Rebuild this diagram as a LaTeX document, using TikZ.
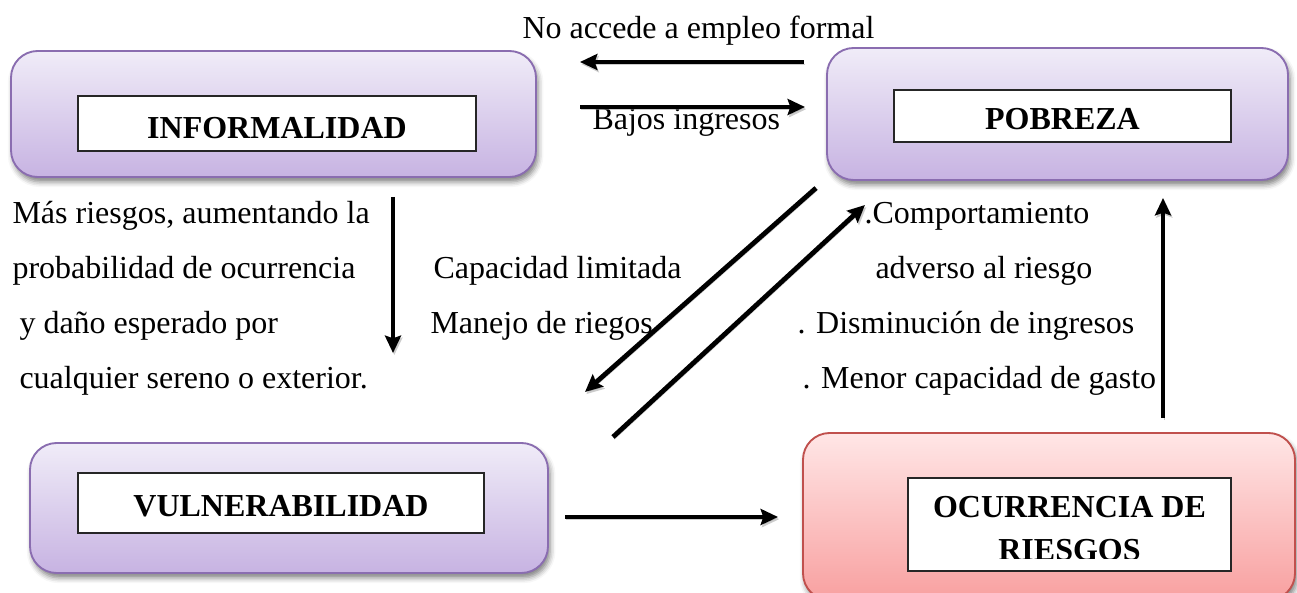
\documentclass[tikz,border=0pt]{standalone}
\usepackage{fontspec}
\setmainfont{Liberation Serif}
\usetikzlibrary{arrows.meta,shadows.blur,fit}
\definecolor{ptop}{HTML}{F0ECF8}
\definecolor{pbot}{HTML}{C7B3E2}
\definecolor{pline}{HTML}{8A6DB0}
\definecolor{rtop}{HTML}{FFE6E6}
\definecolor{rbot}{HTML}{F8A0A0}
\definecolor{rline}{HTML}{C0504D}
\begin{document}
\begin{tikzpicture}[x=0.375pt,y=-0.375pt,
  every node/.style={font=\fontsize{12}{14}\selectfont},
  outerbox/.style={rounded corners=10pt, line width=0.7pt, inner sep=0pt,
     blur shadow={shadow xshift=0.8pt, shadow yshift=-1.8pt, shadow blur radius=2pt, shadow opacity=50}},
  lilac/.style={outerbox, draw=pline, top color=ptop, bottom color=pbot},
  rosy/.style={outerbox, draw=rline, top color=rtop, bottom color=rbot},
  innerbox/.style={draw=black!85, fill=white, line width=0.5pt, inner sep=0pt},
  boxlabel/.style={font=\fontsize{12}{14}\selectfont\bfseries, inner sep=0pt, anchor=base},
  txt/.style={inner sep=0pt, anchor=base west},
  conn/.style={line width=1.8pt, -{Stealth[length=6.5pt,width=6pt,inset=1pt]},
     preaction={draw=black!40, opacity=0.5, transform canvas={xshift=0.5pt,yshift=-0.8pt}}}
]
\useasboundingbox (0,0) rectangle (1297,593);
\clip (0,0) rectangle (1297,593);

% boxes
\node[lilac, fit={(11,51)(536,177)}] (inf) {};
\node[innerbox, fit={(78,96)(476,151)}] (infin) {};
\node[boxlabel] (inft) at (277,139) {INFORMALIDAD};

\node[lilac, fit={(827,48)(1288,180)}] (pob) {};
\node[innerbox, fit={(894,90)(1231,142)}] (pobin) {};
\node[boxlabel] (pobt) at (1062.5,130) {POBREZA};

\node[lilac, fit={(30,443)(548,573)}] (vul) {};
\node[innerbox, fit={(78,473)(484,533)}] (vulin) {};
\node[boxlabel] (vult) at (281,517) {VULNERABILIDAD};

\node[rosy, fit={(803,433)(1295,600)}] (ocu) {};
\node[innerbox, fit={(908,478)(1231,571)}] (ocuin) {};
\begin{scope}
  \clip (908,478) rectangle (1231,559);
  \node[boxlabel] (ocut1) at (1069.5,518) {OCURRENCIA DE};
  \node[boxlabel] (ocut2) at (1069.5,561) {RIESGOS};
\end{scope}

% texts
\node[txt] (t1) at (522,39) {No accede a empleo formal};
\node[txt] (t2) at (592,130) {Bajos ingresos};
\node[txt] (l1) at (12,224) {Más riesgos, aumentando la};
\node[txt] (l2) at (12,279) {probabilidad de ocurrencia};
\node[txt] (l3) at (19,334) {y daño esperado por};
\node[txt] (l4) at (19,389) {cualquier sereno o exterior.};
\node[txt] (m1) at (433,279) {Capacidad limitada};
\node[txt] (m2) at (430,334) {Manejo de riegos};
\node[txt] (r1) at (864,224) {.Comportamiento};
\node[txt] (r2) at (875,279) {adverso al riesgo};
\node[txt] (r3) at (797,334) {. Disminución de ingresos};
\node[txt] (r4) at (802,389) {. Menor capacidad de gasto};

% connector end points
\coordinate (a1s) at (804,62);   \coordinate (a1e) at (580,62);
\coordinate (a2s) at (580,107);  \coordinate (a2e) at (805,107);
\coordinate (a3s) at (393,197);  \coordinate (a3e) at (393,353);
\coordinate (a4s) at (816,188);  \coordinate (a4e) at (585,392);
\coordinate (a5s) at (613,437);  \coordinate (a5e) at (865,205);
\coordinate (a6s) at (565,517);  \coordinate (a6e) at (778,517);
\coordinate (a7s) at (1163,418); \coordinate (a7e) at (1163,198);

\draw[conn] (a1s) -- (a1e);
\draw[conn] (a2s) -- (a2e);
\draw[conn] (a3s) -- (a3e);
\draw[conn] (a4s) -- (a4e);
\draw[conn] (a5s) -- (a5e);
\draw[conn] (a6s) -- (a6e);
\draw[conn] (a7s) -- (a7e);
\end{tikzpicture}
\end{document}
